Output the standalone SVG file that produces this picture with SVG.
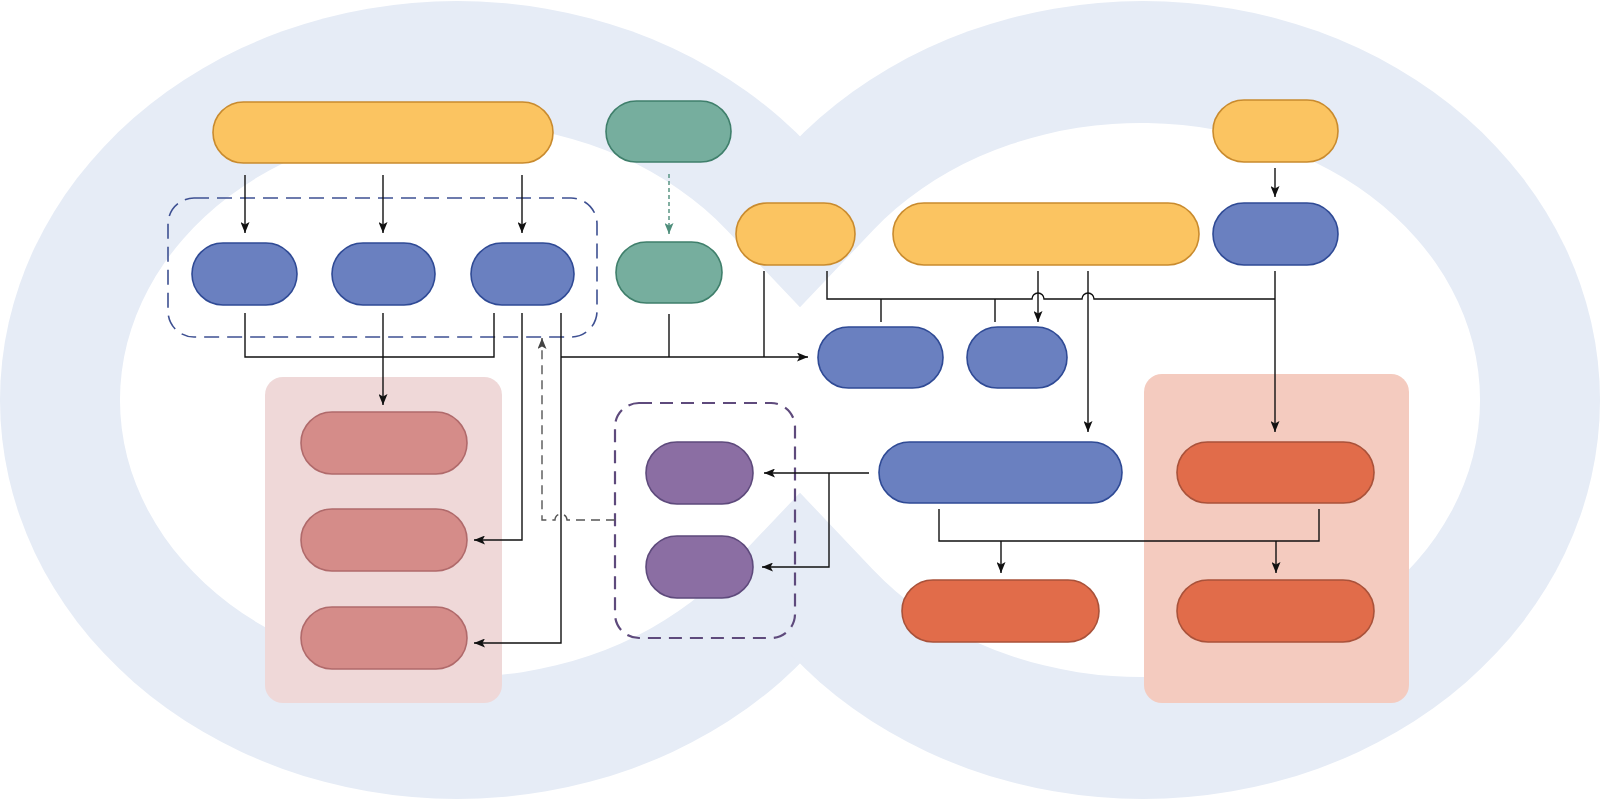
<svg xmlns="http://www.w3.org/2000/svg" width="1600" height="801" viewBox="0 0 1600 801">
  <style>
    .bg { fill: #E6ECF6; }
    .hole { fill: #FFFFFF; }
    .node { stroke-width: 1.6; }
    .yellow { fill: #FBC461; stroke: #C98B2E; }
    .green { fill: #76AE9E; stroke: #3F7F6B; }
    .blue { fill: #6A80C0; stroke: #2F4A95; }
    .pink { fill: #D58C89; stroke: #B06A6B; }
    .purple { fill: #8B6EA3; stroke: #5E4A7C; }
    .orange { fill: #E16C4A; stroke: #A9523A; }
    .wire { fill: none; stroke: #111111; stroke-width: 1.4; }
    .wire-arrow { fill: none; stroke: #111111; stroke-width: 1.4; marker-end: url(#arr); }
    .dash-gray { fill: none; stroke: #555555; stroke-width: 1.4; stroke-dasharray: 9 6; }
    .dash-green { fill: none; stroke: #4E8E7B; stroke-width: 1.4; stroke-dasharray: 4 3; marker-end: url(#arrGreen); }
  </style>
  <defs>
    <marker id="arr" markerWidth="11" markerHeight="9" refX="11" refY="4.5" orient="auto" markerUnits="userSpaceOnUse">
      <path d="M0,0 L11,4.5 L0,9 L2.5,4.5 Z" fill="#111111"/>
    </marker>
    <marker id="arrGray" markerWidth="11" markerHeight="9" refX="11" refY="4.5" orient="auto" markerUnits="userSpaceOnUse">
      <path d="M0,0 L11,4.5 L0,9 L2.5,4.5 Z" fill="#444444"/>
    </marker>
    <marker id="arrGreen" markerWidth="11" markerHeight="9" refX="11" refY="4.5" orient="auto" markerUnits="userSpaceOnUse">
      <path d="M0,0 L11,4.5 L0,9 L2.5,4.5 Z" fill="#4E8E7B"/>
    </marker>
  </defs>

  <rect x="0" y="0" width="1600" height="801" fill="#FFFFFF"/>

  <g id="background">
    <ellipse class="bg" cx="457" cy="400" rx="457" ry="399"/>
    <ellipse class="bg" cx="1143" cy="400" rx="457" ry="399"/>
    <path class="hole" d="M888,400 L726.9,230.3 A339,277 0 1 0 726.9,569.7 Z"/>
    <path class="hole" d="M712,400 L873.1,230.3 A339,277 0 1 1 873.1,569.7 Z"/>
  </g>

  <g id="containers">
    <rect id="group-pink" x="265" y="377" width="237" height="326" rx="18" fill="#EFD8D8"/>
    <rect id="group-salmon" x="1144" y="374" width="265" height="329" rx="18" fill="#F4CBBF"/>
    <rect id="group-blue-dashed" x="168" y="198" width="429" height="139" rx="26" fill="none" stroke="#3E5092" stroke-width="1.6" stroke-dasharray="15 8"/>
    <rect id="group-purple-dashed" x="615" y="403" width="180" height="235" rx="24" fill="none" stroke="#5E4A7C" stroke-width="2.2" stroke-dasharray="13 8"/>
  </g>

  <g id="connectors">
    <path class="wire-arrow" d="M245,175 V233"/>
    <path class="wire-arrow" d="M383,175 V233"/>
    <path class="wire-arrow" d="M522,175 V233"/>
    <path class="dash-green" d="M669,174 V234"/>
    <path class="wire-arrow" d="M1275,168 V197"/>

    <path class="wire" d="M245,313 V357 H494 V313"/>
    <path class="wire-arrow" d="M383,313 V405"/>
    <path class="wire-arrow" d="M522,313 V540 H474"/>
    <path class="wire-arrow" d="M561,313 V643 H474"/>
    <path class="wire-arrow" d="M561,357 H808"/>
    <path class="wire" d="M669,314 V357"/>
    <path class="wire" d="M764,271 V357"/>

    <path class="dash-gray" d="M615,520 H567 A6,6 0 0 0 555,520 H542 V338" marker-end="url(#arrGray)"/>

    <path class="wire" d="M827,271 V299 H1032 A6,6 0 0 1 1044,299 H1082 A6,6 0 0 1 1094,299 H1275"/>
    <path class="wire" d="M881,299 V322"/>
    <path class="wire" d="M995,299 V322"/>
    <path class="wire-arrow" d="M1038,271 V322"/>
    <path class="wire-arrow" d="M1088,271 V432"/>
    <path class="wire-arrow" d="M1275,271 V432"/>

    <path class="wire-arrow" d="M869,473 H764"/>
    <path class="wire-arrow" d="M829,473 V567 H762"/>

    <path class="wire" d="M939,509 V541 H1319 V509"/>
    <path class="wire-arrow" d="M1001,541 V573"/>
    <path class="wire-arrow" d="M1276,541 V573"/>
  </g>

  <g id="y1"><rect class="node yellow" x="213" y="102" width="340" height="61" rx="30.5"/></g>
  <g id="g1"><rect class="node green" x="606" y="101" width="125" height="61" rx="30.5"/></g>
  <g id="y4"><rect class="node yellow" x="1213" y="100" width="125" height="62" rx="31"/></g>
  <g id="g2"><rect class="node green" x="616" y="242" width="106" height="61" rx="30.5"/></g>
  <g id="y2"><rect class="node yellow" x="736" y="203" width="119" height="62" rx="31"/></g>
  <g id="y3"><rect class="node yellow" x="893" y="203" width="306" height="62" rx="31"/></g>
  <g id="b6"><rect class="node blue" x="1213" y="203" width="125" height="62" rx="31"/></g>
  <g id="b1"><rect class="node blue" x="192" y="243" width="105" height="62" rx="31"/></g>
  <g id="b2"><rect class="node blue" x="332" y="243" width="103" height="62" rx="31"/></g>
  <g id="b3"><rect class="node blue" x="471" y="243" width="103" height="62" rx="31"/></g>
  <g id="b4"><rect class="node blue" x="818" y="327" width="125" height="61" rx="30.5"/></g>
  <g id="b5"><rect class="node blue" x="967" y="327" width="100" height="61" rx="30.5"/></g>
  <g id="b7"><rect class="node blue" x="879" y="442" width="243" height="61" rx="30.5"/></g>
  <g id="p1"><rect class="node pink" x="301" y="412" width="166" height="62" rx="31"/></g>
  <g id="p2"><rect class="node pink" x="301" y="509" width="166" height="62" rx="31"/></g>
  <g id="p3"><rect class="node pink" x="301" y="607" width="166" height="62" rx="31"/></g>
  <g id="u1"><rect class="node purple" x="646" y="442" width="107" height="62" rx="31"/></g>
  <g id="u2"><rect class="node purple" x="646" y="536" width="107" height="62" rx="31"/></g>
  <g id="o1"><rect class="node orange" x="1177" y="442" width="197" height="61" rx="30.5"/></g>
  <g id="o2"><rect class="node orange" x="902" y="580" width="197" height="62" rx="31"/></g>
  <g id="o3"><rect class="node orange" x="1177" y="580" width="197" height="62" rx="31"/></g>
</svg>
